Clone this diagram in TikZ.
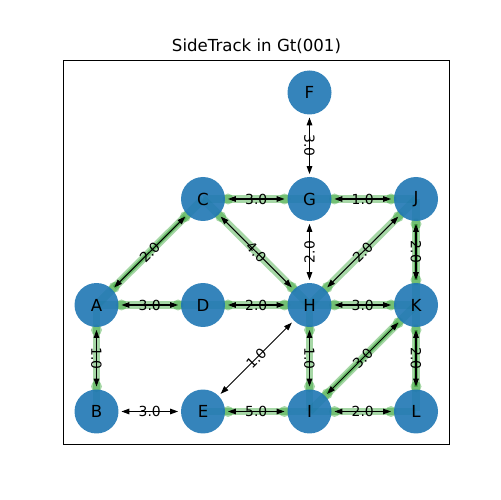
\documentclass[tikz,border=0pt]{standalone}
\usepackage{fontspec}
\setmainfont{DejaVu Sans}
\usetikzlibrary{arrows.meta,calc}
\definecolor{nodeblue}{HTML}{1F77B4}
\definecolor{pathgreen}{HTML}{2CA02C}
\begin{document}
\begin{tikzpicture}[x=0.02cm,y=0.02cm,
  vertex/.style={circle,fill=nodeblue,fill opacity=0.9,text opacity=1,
    minimum size=0.88cm,inner sep=0pt,outer sep=0pt,
    font=\fontsize{9.45}{11}\selectfont},
  hlline/.style={pathgreen,opacity=0.42,line width=4.5pt},
  hlinner/.style={pathgreen,opacity=0.5,line width=2.3pt},
  hldot/.style={pathgreen,opacity=0.42},
  arr/.style={black,line width=0.6pt,
    {Triangle[length=4.5pt,width=3.2pt]}-{Triangle[length=4.5pt,width=3.2pt]},
    shorten <=0.06cm,shorten >=0.06cm},
  elabel/.style={font=\fontsize{7.9}{9}\selectfont,inner sep=0pt},
  frame/.style={black,line width=0.6pt}]
\useasboundingbox (0,0) rectangle (500,500);

% title and axes frame
\node[font=\fontsize{9.45}{11}\selectfont] (title) at (256.5,454) {SideTrack in Gt(001)};
\draw[frame] (63.5,55.5) rectangle (449.5,439.5);

% node positions
\coordinate (pF) at (309.5,407.5);
\coordinate (pC) at (203,301);
\coordinate (pG) at (309.5,301);
\coordinate (pJ) at (416,301);
\coordinate (pA) at (96.5,195);
\coordinate (pD) at (203,195);
\coordinate (pH) at (309.5,195);
\coordinate (pK) at (416,195);
\coordinate (pB) at (96.5,88.5);
\coordinate (pE) at (203,88.5);
\coordinate (pI) at (309.5,88.5);
\coordinate (pL) at (416,88.5);

% highlighted track (under the nodes)
\foreach \a/\b in {A/D,D/H,H/K,C/G,G/J,E/I,I/L,A/B,H/I,C/H,H/J,A/C,I/K,J/K,K/L}{
  \draw[hlline] (p\a) -- (p\b);
  \fill[hldot] ($(p\a)!0.5cm!(p\b)$) circle[radius=0.11cm];
  \fill[hldot] ($(p\b)!0.5cm!(p\a)$) circle[radius=0.11cm];
}
\foreach \a/\b in {A/C,I/K,J/K,K/L}{
  \draw[hlinner] ($(p\a)!0.5cm!(p\b)$) -- ($(p\b)!0.5cm!(p\a)$);
}

% nodes
\foreach \n in {F,C,G,J,A,D,H,K,B,E,I,L}{
  \node[vertex] (\n) at (p\n) {\n};
}

% connectors with weights
\foreach \a/\b/\w/\r in {F/G/3.0/-90,C/G/3.0/0,G/J/1.0/0,A/C/2.0/45,
    C/H/4.0/-45,G/H/2.0/90,H/J/2.0/45,J/K/2.0/-90,A/D/3.0/0,D/H/2.0/0,
    H/K/3.0/0,A/B/1.0/-90,E/H/1.0/45,H/I/1.0/-90,I/K/3.0/45,K/L/2.0/-90,
    B/E/3.0/0,E/I/5.0/0,I/L/2.0/0}{
  \draw[arr] (\a) -- (\b);
  \path (\a) -- node[elabel,rotate=\r] {\w} (\b);
}
\end{tikzpicture}
\end{document}
